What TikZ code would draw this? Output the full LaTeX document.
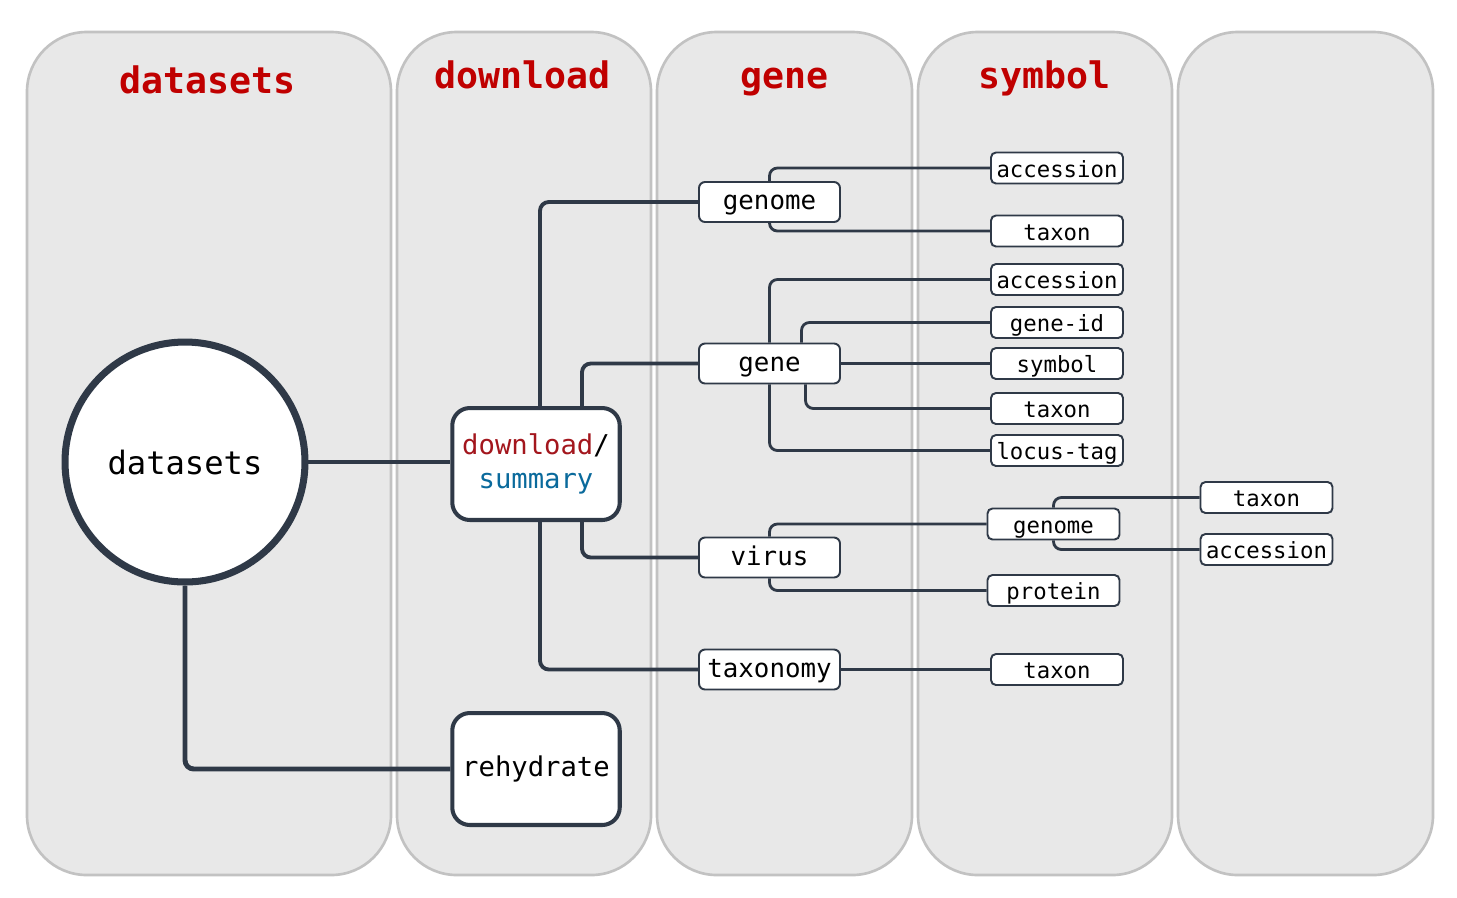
\documentclass[tikz,border=0pt]{standalone}
\usepackage{fontspec}
\setmainfont{DejaVu Sans Mono}
\usetikzlibrary{calc}

\definecolor{lanefill}{HTML}{E8E8E8}
\definecolor{laneline}{HTML}{C2C2C2}
\definecolor{titlered}{HTML}{C00000}
\definecolor{edgegray}{HTML}{2F3947}
\definecolor{dlred}{HTML}{A3161D}
\definecolor{sumblue}{HTML}{0A6A9C}

\tikzset{
  lane/.style={fill=lanefill, draw=laneline, line width=1.5pt, rounded corners=34pt},
  lanetitle/.style={text=titlered, font=\bfseries\fontsize{20.8}{24}\selectfont, anchor=base},
  hub/.style={circle, draw=edgegray, fill=white, line width=4pt, minimum size=4.8cm,
    inner sep=0pt, font=\fontsize{18.3}{22}\selectfont},
  cmdbox/.style={draw=edgegray, fill=white, line width=2.3pt, rounded corners=10pt,
    minimum width=3.35cm, minimum height=2.24cm, inner sep=0pt, align=center,
    font=\fontsize{15.5}{19.8}\selectfont},
  subcmd/.style={draw=edgegray, fill=white, line width=1.1pt, rounded corners=3.4pt,
    minimum width=2.82cm, minimum height=0.8cm, inner sep=0pt,
    text height=10pt, text depth=1.4pt, font=\fontsize{14.7}{17}\selectfont},
  leaf/.style={draw=edgegray, fill=white, line width=1.1pt, rounded corners=2.8pt,
    minimum width=2.64cm, minimum height=0.62cm, inner sep=0pt,
    text height=10.6pt, text depth=0pt, font=\fontsize{12.7}{15}\selectfont},
  trunk/.style={draw=edgegray, line width=2.8pt, rounded corners=5pt},
  branch/.style={draw=edgegray, line width=2.2pt, rounded corners=5pt},
  twig/.style={draw=edgegray, line width=1.6pt, rounded corners=4.5pt},
}

\begin{document}
\begin{tikzpicture}[x=0.02cm, y=-0.02cm]
\useasboundingbox (0,0) rectangle (1457,897);

% Lanes
\draw[lane] (27,32) rectangle (391,875);
\draw[lane] (397,32) rectangle (651,875);
\draw[lane] (657,32) rectangle (912,875);
\draw[lane] (918,32) rectangle (1172,875);
\draw[lane] (1178,32) rectangle (1433,875);

% Lane titles
\node[lanetitle] (t-datasets) at (208,93) {datasets};
\node[lanetitle] (t-download) at (523,88) {download};
\node[lanetitle] (t-gene) at (784,88) {gene};
\node[lanetitle] (t-symbol) at (1044,88) {symbol};

% Main commands
\node[hub] (ds) at (185,462) {datasets};
\node[cmdbox] (dl) at (536,464) {\textcolor{dlred}{download}/\\\textcolor{sumblue}{summary}};
\node[cmdbox] (rh) at (536,769) {rehydrate};

% Sub-commands
\node[subcmd] (genome) at (769.5,202) {genome};
\node[subcmd] (gene) at (769.5,363.5) {gene};
\node[subcmd] (virus) at (769.5,557.5) {virus};
\node[subcmd] (taxonomy) at (769.5,669.5) {taxonomy};

% Genome options
\node[leaf] (g-acc) at (1057,168) {accession};
\node[leaf] (g-tax) at (1057,231) {taxon};

% Gene options
\node[leaf] (n-acc) at (1057,279.5) {accession};
\node[leaf] (n-id) at (1057,322.5) {gene-id};
\node[leaf] (n-sym) at (1057,363.5) {symbol};
\node[leaf] (n-tax) at (1057,408.5) {taxon};
\node[leaf] (n-loc) at (1057,450.5) {locus-tag};

% Virus options
\node[leaf] (v-gen) at (1053.5,524) {genome};
\node[leaf] (v-pro) at (1053.5,590.5) {protein};
\node[leaf] (vg-tax) at (1266.5,497.5) {taxon};
\node[leaf] (vg-acc) at (1266.5,549.5) {accession};

% Taxonomy options
\node[leaf] (t-tax) at (1057,669.5) {taxon};

% Connectors from datasets
\draw[trunk] (ds.east) -- (dl.west |- ds.east);
\draw[trunk] (ds.south) |- (rh.west);

% Connectors from download/summary
\draw[branch] ($(dl.north)+(4,0)$) |- (genome.west);
\draw[branch] ($(dl.north)+(46,0)$) |- (gene.west);
\draw[branch] ($(dl.south)+(46,0)$) |- (virus.west);
\draw[branch] ($(dl.south)+(4,0)$) |- (taxonomy.west);

% Connectors to options
\draw[twig] (genome.north) |- (g-acc.west);
\draw[twig] (genome.south) |- (g-tax.west);
\draw[twig] (gene.north) |- (n-acc.west);
\draw[twig] ($(gene.north)+(32,0)$) |- (n-id.west);
\draw[twig] (gene.east) -- (n-sym.west);
\draw[twig] ($(gene.south)+(36,0)$) |- (n-tax.west);
\draw[twig] (gene.south) |- (n-loc.west);
\draw[twig] (virus.north) |- (v-gen.west);
\draw[twig] (virus.south) |- (v-pro.west);
\draw[twig] (v-gen.north) |- (vg-tax.west);
\draw[twig] (v-gen.south) |- (vg-acc.west);
\draw[twig] (taxonomy.east) -- (t-tax.west);

\end{tikzpicture}
\end{document}
